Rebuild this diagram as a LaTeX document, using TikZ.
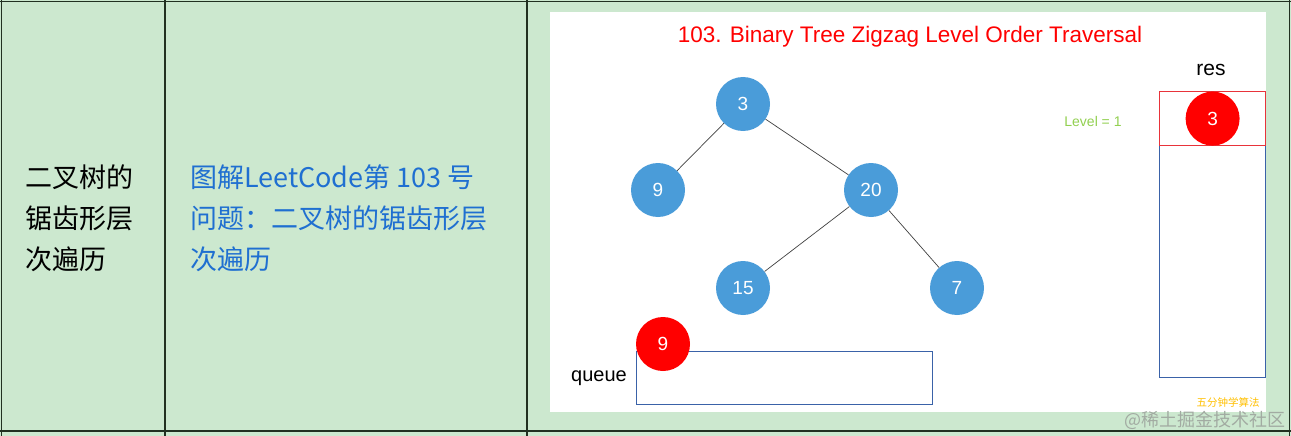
\documentclass[tikz,border=0pt]{standalone}
\usepackage{fontspec}
\setmainfont{Liberation Sans}
\newfontfamily\cjk{Noto Sans CJK SC}
\usetikzlibrary{positioning}
\definecolor{cellgreen}{HTML}{CCE8CF}
\definecolor{gridline}{HTML}{213021}
\definecolor{linkblue}{HTML}{1F6FD1}
\definecolor{treeblue}{HTML}{4A9CD9}
\definecolor{boxblue}{HTML}{3A62A8}
\definecolor{cellred}{HTML}{E8333A}
\definecolor{levelgreen}{HTML}{92D050}
\definecolor{markgold}{HTML}{FFC000}
\definecolor{markgray}{HTML}{A2ABA2}

\begin{document}
\begin{tikzpicture}[x=1pt, y=-1pt,
    treenode/.style={circle, fill=#1, text=white, inner sep=0pt,
                     minimum size=54pt, font=\fontsize{19}{19}\selectfont},
    treenode/.default=treeblue,
    treelink/.style={draw=black!75, line width=0.7pt},
    cell/.style={font=\cjk\fontsize{27}{41}\selectfont, align=left,
                 anchor=west, inner sep=0pt},
    slot/.style={line width=1pt, inner sep=0pt, anchor=north west},
  ]
  \useasboundingbox (0,0) rectangle (1291,436);
  % table
  \fill[cellgreen] (0,0) rectangle (1291,436);
  \draw[gridline, line width=1.5pt] (0,1.5) -- (1291,1.5) (0,431) -- (1291,431);
  \foreach \x in {1.5,165,527,1289.5}
    \draw[gridline, line width=1.5pt] (\x,0) -- (\x,436);
  \node[cell] (name) at (25,218) {二叉树的\\锯齿形层\\次遍历};
  \node[cell, text=linkblue] (link) at (190,218)
    {图解LeetCode第 103 号\\问题：二叉树的锯齿形层\\次遍历};

  % slide
  \fill[white] (550,12) rectangle (1266,411.5);
  \node[text=red, font=\fontsize{22.5}{22.5}\selectfont] (title) at (910,37)
    {103. Binary Tree Zigzag Level Order Traversal};

  % tree
  \node[treenode] (n3) at (743,104) {3};
  \node[treenode] (n9) at (658,190) {9};
  \node[treenode] (n20) at (871,190) {20};
  \node[treenode] (n15) at (743,288) {15};
  \node[treenode] (n7) at (957,288) {7};
  \draw[treelink] (n3) -- (n9);
  \draw[treelink] (n3) -- (n20);
  \draw[treelink] (n20) -- (n15);
  \draw[treelink] (n20) -- (n7);

  % queue
  \node[slot, draw=boxblue, minimum width=296pt, minimum height=53pt] (queue) at (636,351) {};
  \node[font=\fontsize{20}{20}\selectfont, inner sep=0pt, left=9pt of queue] (qlabel) {queue};
  \node[treenode=red] (q9) at (663,344) {9};

  % res
  \node[slot, draw=boxblue, minimum width=106pt, minimum height=286pt] (resbox) at (1159,91) {};
  \node[slot, draw=cellred, line width=1.2pt, minimum width=106pt, minimum height=54pt] (rescell) at (1159,91) {};
  \node[font=\fontsize{21}{21}\selectfont] (reslabel) at (1211,70) {res};
  \node[treenode=red] (r3) at (rescell.center) {3};
  \node[text=levelgreen, font=\fontsize{14}{14}\selectfont] (level) at (1093,121) {Level = 1};

  % marks
  \node[text=markgold, font=\cjk\fontsize{10.5}{10.5}\selectfont] (mark) at (1228,402) {五分钟学算法};
  \node[text=markgray, font=\cjk\fontsize{18}{18}\selectfont, anchor=east, inner sep=0pt]
    (juejin) at (1286,420) {@稀土掘金技术社区};
\end{tikzpicture}
\end{document}
